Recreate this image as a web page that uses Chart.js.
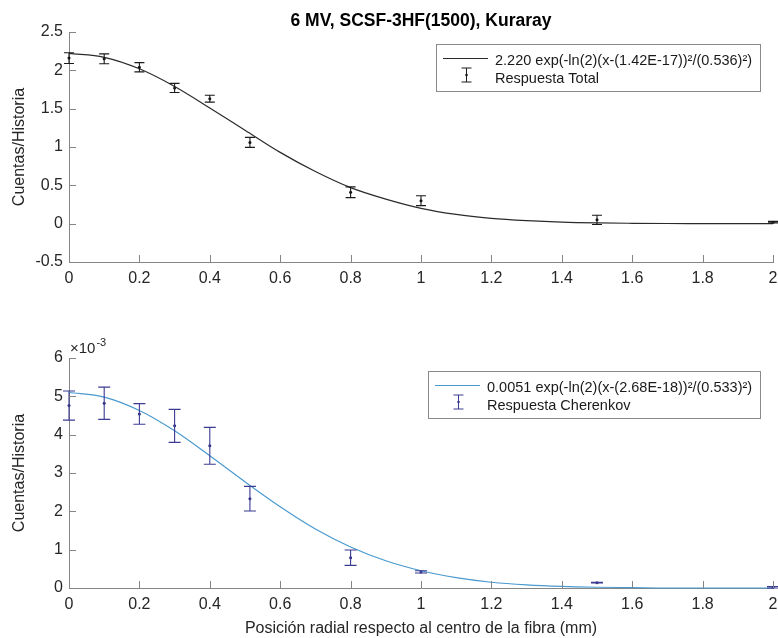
<!DOCTYPE html>
<html>
<head>
<meta charset="utf-8">
<script src="https://cdn.jsdelivr.net/npm/chart.js@4.4.1/dist/chart.umd.min.js"></script>
<style>
    html, body { margin: 0; padding: 0; background: #fff; }
    #grafico_1 { position: absolute; left: 0; top: 0; }
    #grafico_2 { position: absolute; left: 0; top: 300px; }
</style>
</head>
<body>
<canvas id="grafico_1" width="778" height="300"></canvas>
<canvas id="grafico_2" width="778" height="338"></canvas>
<script>
var posiciones = [0, 0.1, 0.2, 0.3, 0.4, 0.514, 0.8, 1.0, 1.5, 2.0];
var respuestaTotal = [2.16, 2.15, 2.04, 1.77, 1.63, 1.06, 0.41, 0.30, 0.05, 0.02];
var errorTotal = [0.07, 0.065, 0.06, 0.06, 0.045, 0.065, 0.07, 0.065, 0.06, 0.01];
var respuestaCherenkov = [0.00476, 0.00482, 0.00454, 0.00423, 0.00371, 0.00233, 0.00079, 0.00042, 0.00014, 0.00002];
var errorCherenkov = [0.00038, 0.00042, 0.00027, 0.00043, 0.00048, 0.00032, 0.00020, 0.00003, 0.00001, 0.00002];

// Curvas de ajuste (gaussianas) leidas cada 0.1 mm
var posicionesAjuste = [0, 0.1, 0.2, 0.3, 0.4, 0.5, 0.6, 0.7, 0.8, 0.9, 1.0, 1.1, 1.2, 1.3, 1.4, 1.5, 1.6, 1.7, 1.8, 1.9, 2.0];
var ajusteTotal = [2.22, 2.17, 2.02, 1.79, 1.51, 1.22, 0.93, 0.68, 0.47, 0.32, 0.20, 0.12, 0.07, 0.04, 0.02, 0.01, 0.005, 0.002, 0.001, 0, 0];
var ajusteCherenkov = [0.00510, 0.00498, 0.00463, 0.00410, 0.00345, 0.00277, 0.00212, 0.00154, 0.00107, 0.00071, 0.00045, 0.00027, 0.00015, 0.00008, 0.00004, 0.00002, 0.00001, 0, 0, 0, 0];

// Marcas de los ejes
var ticksX = [0, 0.2, 0.4, 0.6, 0.8, 1.0, 1.2, 1.4, 1.6, 1.8, 2.0];
var ticksYTotal = [-0.5, 0, 0.5, 1, 1.5, 2, 2.5];
var ticksYCherenkov = [0, 0.001, 0.002, 0.003, 0.004, 0.005, 0.006];

var titulo = "6 MV, SCSF-3HF(1500), Kuraray";
var tituloX = "Posición radial respecto al centro de la fibra (mm)";
var tituloY = "Cuentas/Historia";
var textosTotal = ["2.220 exp(-ln(2)(x-(1.42E-17))²/(0.536)²)", "Respuesta Total"];
var textosCherenkov = ["0.0051 exp(-ln(2)(x-(2.68E-18))²/(0.533)²)", "Respuesta Cherenkov"];

var FUENTE = "'Liberation Sans', Arial, Helvetica, sans-serif";
var GRIS_EJE = '#858585';

Chart.defaults.font.family = FUENTE;
Chart.defaults.color = '#262626';

function aPuntos(xs, ys) {
    return xs.map((x, i) => ({ x: x, y: ys[i] }));
}

// barras de error verticales
const barrasError = {
    id: 'barrasError',
    afterDatasetsDraw(chart) {
        const ctx = chart.ctx;
        const ex = chart.scales.x, ey = chart.scales.y;
        chart.data.datasets.forEach(ds => {
            if (!ds.errores) return;
            ctx.save();
            ctx.strokeStyle = ds.colorError;
            ctx.lineWidth = 1.1;
            ctx.beginPath();
            ds.data.forEach((p, i) => {
                const px = ex.getPixelForValue(p.x);
                const y1 = ey.getPixelForValue(p.y + ds.errores[i]);
                const y2 = ey.getPixelForValue(p.y - ds.errores[i]);
                ctx.moveTo(px, y1); ctx.lineTo(px, y2);
                ctx.moveTo(px - ds.anchoTapa, y1); ctx.lineTo(px + ds.anchoTapa, y1);
                ctx.moveTo(px - ds.anchoTapa, y2); ctx.lineTo(px + ds.anchoTapa, y2);
            });
            ctx.stroke();
            ctx.restore();
        });
    }
};

// marcas hacia dentro, estilo MATLAB
const marcasInternas = {
    id: 'marcasInternas',
    afterDraw(chart) {
        const ctx = chart.ctx, a = chart.chartArea;
        const ex = chart.scales.x, ey = chart.scales.y;
        ctx.save();
        ctx.strokeStyle = GRIS_EJE;
        ctx.lineWidth = 1;
        ctx.beginPath();
        ex.ticks.forEach(t => {
            const px = Math.round(ex.getPixelForValue(t.value)) + 0.5;
            ctx.moveTo(px, a.bottom); ctx.lineTo(px, a.bottom - 7);
        });
        ey.ticks.forEach(t => {
            const py = Math.round(ey.getPixelForValue(t.value)) + 0.5;
            ctx.moveTo(a.left, py); ctx.lineTo(a.left + 7, py);
        });
        ctx.stroke();
        ctx.restore();
    }
};

// caja de leyenda dentro del area
const leyendaCaja = {
    id: 'leyendaCaja',
    afterDraw(chart, args, opts) {
        if (!opts.textos) return;
        const ctx = chart.ctx, a = chart.chartArea;
        ctx.save();
        ctx.font = '14.5px ' + FUENTE;
        const anchoTexto = Math.max(ctx.measureText(opts.textos[0]).width, ctx.measureText(opts.textos[1]).width);
        const w = Math.round(59 + anchoTexto + 8), h = 47;
        const x0 = Math.round(a.right - 13 - w), y0 = Math.round(a.top + opts.margenSup);
        ctx.fillStyle = '#fff';
        ctx.fillRect(x0, y0, w, h);
        ctx.strokeStyle = '#8a8a8a';
        ctx.lineWidth = 1;
        ctx.strokeRect(x0 + 0.5, y0 + 0.5, w, h);

        const f1 = y0 + 14.5, f2 = y0 + 33;
        ctx.strokeStyle = opts.colorLinea;
        ctx.lineWidth = 1.2;
        ctx.beginPath(); ctx.moveTo(x0 + 7, f1); ctx.lineTo(x0 + 52, f1); ctx.stroke();

        const cx = x0 + 30.5, cy = y0 + 31;
        ctx.strokeStyle = opts.colorError;
        ctx.lineWidth = 1;
        ctx.beginPath();
        ctx.moveTo(cx, cy - 7); ctx.lineTo(cx, cy + 7);
        ctx.moveTo(cx - 5, cy - 7); ctx.lineTo(cx + 5, cy - 7);
        ctx.moveTo(cx - 5, cy + 7); ctx.lineTo(cx + 5, cy + 7);
        ctx.stroke();
        ctx.fillStyle = opts.colorError;
        ctx.beginPath(); ctx.arc(cx, cy, 1.3, 0, 2 * Math.PI); ctx.fill();

        ctx.fillStyle = '#1a1a1a';
        ctx.textAlign = 'left';
        ctx.textBaseline = 'middle';
        ctx.fillText(opts.textos[0], x0 + 59, y0 + 16.5);
        ctx.fillText(opts.textos[1], x0 + 59, f2 + 1.5);
        ctx.restore();
    }
};

// titulo centrado sobre el area de datos (como en MATLAB)
const tituloArea = {
    id: 'tituloArea',
    afterDraw(chart, args, opts) {
        if (!opts.texto) return;
        const ctx = chart.ctx, a = chart.chartArea;
        ctx.save();
        ctx.font = 'bold 17.5px ' + FUENTE;
        ctx.fillStyle = '#000';
        ctx.textAlign = 'center';
        ctx.textBaseline = 'middle';
        ctx.fillText(opts.texto, (a.left + a.right) / 2, a.top - 11);
        ctx.restore();
    }
};

// factor x10^-3 sobre el eje y inferior
const factorEscala = {
    id: 'factorEscala',
    afterDraw(chart, args, opts) {
        if (!opts.base) return;
        const ctx = chart.ctx, a = chart.chartArea;
        ctx.save();
        ctx.fillStyle = '#262626';
        ctx.textAlign = 'left';
        ctx.textBaseline = 'alphabetic';
        ctx.font = '15px ' + FUENTE;
        ctx.fillText(opts.base, a.left + 1, a.top - 5);
        const w = ctx.measureText(opts.base).width;
        ctx.font = '11px ' + FUENTE;
        ctx.fillText(opts.exponente, a.left + 1 + w + 1, a.top - 12);
        ctx.restore();
    }
};

function opcionesEjes(ticksY, altoX, conTituloX, formatoY) {
    return {
        x: {
            type: 'linear',
            min: 0,
            max: 2,
            afterBuildTicks: s => { s.ticks = ticksX.map(v => ({ value: v })); },
            afterFit: s => { s.height = altoX; s.paddingLeft = 0; s.paddingRight = 0; },
            grid: { display: false, drawTicks: false },
            border: { color: GRIS_EJE, width: 1 },
            ticks: {
                font: { size: 16 },
                padding: 7,
                maxRotation: 0,
                callback: v => String(Math.round(v * 10) / 10)
            },
            title: {
                display: conTituloX,
                text: tituloX,
                font: { size: 16 },
                color: '#262626',
                padding: { top: 0, bottom: 0 }
            }
        },
        y: {
            type: 'linear',
            min: ticksY[0],
            max: ticksY[ticksY.length - 1],
            afterBuildTicks: s => { s.ticks = ticksY.map(v => ({ value: v })); },
            afterFit: s => { s.width = 69; },
            grid: { display: false, drawTicks: false },
            border: { color: GRIS_EJE, width: 1 },
            ticks: {
                font: { size: 16 },
                padding: 6,
                callback: formatoY
            },
            title: {
                display: true,
                text: tituloY,
                font: { size: 16 },
                color: '#262626',
                padding: { top: 10, bottom: 0 }
            }
        }
    };
}

var ctx1 = document.getElementById("grafico_1").getContext("2d");
var grafico1 = new Chart(ctx1, {
    type: 'scatter',
    data: {
        datasets: [{
            label: 'Ajuste total',
            data: aPuntos(posicionesAjuste, ajusteTotal),
            showLine: true,
            borderColor: '#2b2b2b',
            borderWidth: 1.2,
            pointRadius: 0,
            cubicInterpolationMode: 'monotone',
            clip: false
        }, {
            label: 'Respuesta Total',
            data: aPuntos(posiciones, respuestaTotal),
            errores: errorTotal,
            colorError: '#1a1a1a',
            anchoTapa: 5,
            showLine: false,
            pointRadius: 1.5,
            pointBackgroundColor: '#111',
            pointBorderWidth: 0,
            clip: false
        }]
    },
    options: {
        responsive: false,
        animation: false,
        layout: { padding: { left: 0, right: 5, top: 32, bottom: 0 } },
        scales: opcionesEjes(ticksYTotal, 38, false, v => String(Math.round(v * 10) / 10)),
        plugins: {
            legend: { display: false },
            tooltip: { enabled: false },
            tituloArea: { texto: titulo },
            leyendaCaja: { textos: textosTotal, colorLinea: '#2b2b2b', colorError: '#1a1a1a', margenSup: 12 }
        }
    },
    plugins: [barrasError, marcasInternas, leyendaCaja, tituloArea, factorEscala]
});

var ctx2 = document.getElementById("grafico_2").getContext("2d");
var grafico2 = new Chart(ctx2, {
    type: 'scatter',
    data: {
        datasets: [{
            label: 'Ajuste Cherenkov',
            data: aPuntos(posicionesAjuste, ajusteCherenkov),
            showLine: true,
            borderColor: '#4a9ad0',
            borderWidth: 1.2,
            pointRadius: 0,
            cubicInterpolationMode: 'monotone',
            clip: false
        }, {
            label: 'Respuesta Cherenkov',
            data: aPuntos(posiciones, respuestaCherenkov),
            errores: errorCherenkov,
            colorError: '#3b3b92',
            anchoTapa: 6,
            showLine: false,
            pointRadius: 1.5,
            pointBackgroundColor: '#2e2e80',
            pointBorderWidth: 0,
            clip: false
        }]
    },
    options: {
        responsive: false,
        animation: false,
        layout: { padding: { left: 0, right: 5, top: 58, bottom: 0 } },
        scales: opcionesEjes(ticksYCherenkov, 50, true, v => String(Math.round(v * 1000))),
        plugins: {
            legend: { display: false },
            tooltip: { enabled: false },
            leyendaCaja: { textos: textosCherenkov, colorLinea: '#4a9ad0', colorError: '#3b3b92', margenSup: 13 },
            factorEscala: { base: '×10', exponente: '-3' }
        }
    },
    plugins: [barrasError, marcasInternas, leyendaCaja, tituloArea, factorEscala]
});
</script>
</body>
</html>
